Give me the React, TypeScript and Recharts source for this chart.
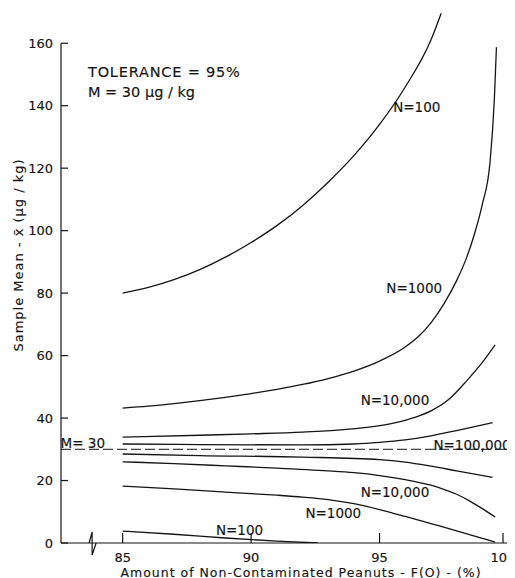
import { LineChart, Line, XAxis, YAxis, ReferenceLine, ReferenceDot } from 'recharts'

type Pt = [number, number]

// [F(O) %, sample mean µg/kg]
const n100Upper: Pt[] = [
  [85, 80], [86, 81.8], [87, 84.3], [88, 87.5], [89, 91.5], [90, 96.2], [91, 101.6],
  [92, 108], [93, 115.5], [94, 124], [95, 134], [96, 146], [97, 161], [97.4, 169.6],
]
const n1000Upper: Pt[] = [
  [85, 43.2], [86, 43.8], [87, 44.6], [88, 45.55], [89, 46.65], [90, 47.85], [91, 49.2],
  [92, 50.75], [93, 52.65], [94, 55.05], [95, 58.25], [96, 62.75], [96.5, 66], [97, 70.5],
  [97.5, 76.5], [98, 84], [98.4, 91.6], [98.7, 99.1], [99, 108.4], [99.3, 121.9], [99.47, 142.3], [99.55, 158.7],
]
const n10kUpper: Pt[] = [
  [85, 33.9], [88, 34.5], [90, 34.95], [92, 35.5], [93.5, 36.2], [94.5, 37], [95.5, 38.3],
  [96.4, 40.3], [97, 42.3], [97.7, 46], [98.4, 52], [99, 57.8], [99.5, 63.4],
]
const n100kUpper: Pt[] = [
  [85, 31.7], [88, 31.5], [92, 31.4], [94, 31.7], [95, 32.2], [96, 33], [97, 34.3], [98, 36], [99.4, 38.5],
]
const n100kLower: Pt[] = [
  [85, 28.5], [88, 28], [92, 27.5], [95, 26.7], [96, 25.9], [97, 24.6], [98, 23.1], [99.4, 21],
]
const n10kLower: Pt[] = [
  [85, 26], [87, 25.4], [89, 24.7], [91, 24], [93, 23.1], [94, 22.5], [95, 21.6], [96, 20.3],
  [97, 18.5], [97.5, 17.2], [98, 15.6], [98.5, 13.5], [99, 11], [99.5, 8.3],
]
const n1000Lower: Pt[] = [
  [85, 18.2], [87, 17.3], [89, 16.3], [91, 15.3], [92, 14.7], [93, 13.9], [94, 12.6],
  [95, 10.7], [96, 8.5], [97, 6.2], [98, 3.9], [99, 1.5], [99.5, 0.3],
]
const n100Lower: Pt[] = [
  [85, 3.8], [87, 2.8], [89, 1.6], [91, 0.6], [92.6, 0],
]

const curves = [n100Upper, n1000Upper, n10kUpper, n100kUpper, n100kLower, n10kLower, n1000Lower, n100Lower]

const xTicks = [85, 90, 95, 100]
const yTicks = [0, 20, 40, 60, 80, 100, 120, 140, 160]
const xMin = 82.6
const mean = 30

const notes = [
  { x: 96.45, y: 139.5, text: 'N=100' },
  { x: 96.35, y: 81.6, text: 'N=1000' },
  { x: 95.6, y: 45.8, text: 'N=10,000' },
  { x: 98.6, y: 31.4, text: 'N=100,000' },
  { x: 95.6, y: 16.3, text: 'N=10,000' },
  { x: 93.2, y: 9.6, text: 'N=1000' },
  { x: 89.55, y: 4.2, text: 'N=100' },
  { x: 83.45, y: 32, text: 'M= 30' },
]

const INK = '#141414'
const FONT = '"DejaVu Sans", sans-serif'
const textStyle = { fontFamily: FONT, fill: INK, stroke: INK, strokeWidth: 0.15 }

function XTick({ x, y, payload }: any) {
  return (
    <g>
      <line x1={x} x2={x} y1={y} y2={y - 10} stroke={INK} strokeWidth={1.2} />
      <text x={x} y={y + 14} textAnchor="middle" dominantBaseline="central" fontSize={13} {...textStyle}>
        {payload.value}
      </text>
    </g>
  )
}

function YTick({ x, y, payload }: any) {
  return (
    <g>
      <line x1={x} x2={x + 7} y1={y} y2={y} stroke={INK} strokeWidth={1.2} />
      <text x={x - 8} y={y} textAnchor="end" dominantBaseline="central" fontSize={13} {...textStyle}>
        {payload.value}
      </text>
    </g>
  )
}

// the little zig-zag that marks the broken x axis
function AxisBreak({ cx, cy }: any) {
  return (
    <path d={`M ${cx - 4} ${cy} L ${cx - 1} ${cy - 11} L ${cx - 1} ${cy + 12} L ${cx + 3} ${cy}`}
          fill="none" stroke={INK} strokeWidth={1.2} />
  )
}

export default function App() {
  return (
    <LineChart width={507} height={570} margin={{ top: 4, right: 7, bottom: 0, left: 0 }}>
      <XAxis type="number" dataKey="x" domain={[xMin, 100]} ticks={xTicks} allowDataOverflow
             height={35} tickSize={0} tickMargin={0} tick={<XTick />} tickLine={false}
             axisLine={{ stroke: INK, strokeWidth: 1.2 }} />
      <YAxis type="number" dataKey="y" domain={[0, 170]} ticks={yTicks} allowDataOverflow
             width={53} tickSize={0} tickMargin={0} tick={<YTick />} tickLine={false} axisLine={false} />

      <ReferenceLine segment={[{ x: xMin, y: 0 }, { x: xMin, y: 160 }]} stroke={INK} strokeWidth={1.2} />
      <ReferenceLine y={mean} stroke={INK} strokeWidth={1} strokeDasharray="10 4" />

      {curves.map((c, i) => (
        <Line key={i} data={c.map(([x, y]) => ({ x, y }))} dataKey="y" type="monotone"
              stroke={INK} strokeWidth={1.3} dot={false} activeDot={false} isAnimationActive={false} />
      ))}

      <ReferenceDot x={83.85} y={0} r={0} shape={<AxisBreak />} />

      {notes.map((n, i) => (
        <ReferenceDot key={i} x={n.x} y={n.y} r={0} fill="none" stroke="none"
                      label={{ value: n.text, position: 'center', fontSize: 13.5, ...textStyle }} />
      ))}
      <ReferenceDot x={83.65} y={150.7} r={0} fill="none" stroke="none"
                    label={{ value: 'TOLERANCE = 95%', position: 'right', offset: 0, fontSize: 14.5, letterSpacing: 0.8, ...textStyle }} />
      <ReferenceDot x={83.65} y={144.3} r={0} fill="none" stroke="none"
                    label={{ value: 'M = 30 µg / kg', position: 'right', offset: 0, fontSize: 14.5, ...textStyle }} />

      <text x={10} y={247} transform="rotate(-90 10 247)" textAnchor="middle" dominantBaseline="central"
            fontSize={13} letterSpacing={1} {...textStyle}>Sample Mean - x̄ (µg / kg)</text>
      <text x={293} y={564} textAnchor="middle" dominantBaseline="central"
            fontSize={12.5} letterSpacing={1} {...textStyle}>Amount of Non-Contaminated Peanuts - F(O) - (%)</text>
    </LineChart>
  )
}
